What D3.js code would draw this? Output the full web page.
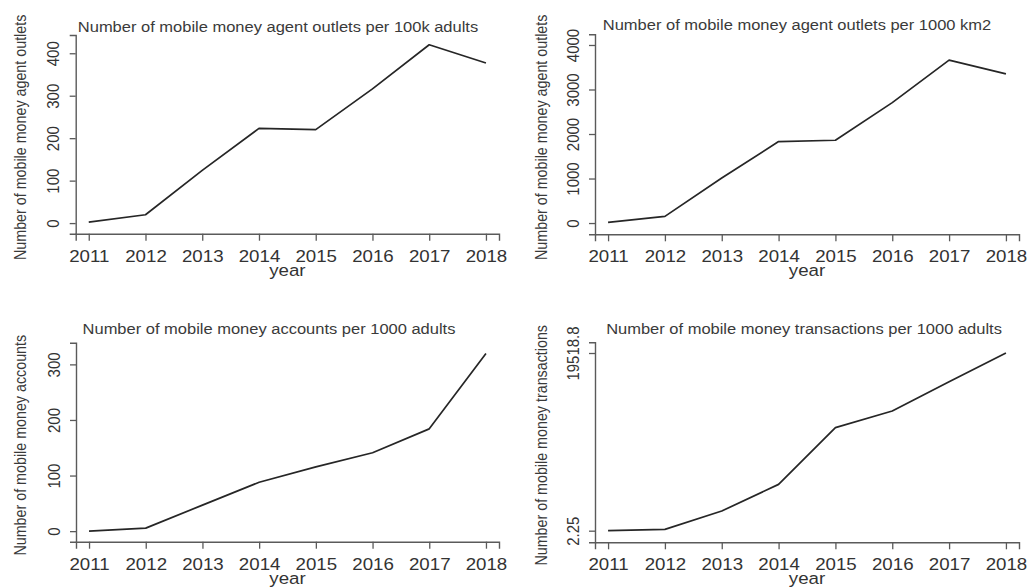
<!DOCTYPE html>
<html>
<head>
<meta charset="utf-8">
<script src="https://cdn.jsdelivr.net/npm/d3@7"></script>
<style>
  body { margin: 0; background: #fff; }
  text { font-family: "Liberation Sans", Arial, sans-serif; }
</style>
</head>
<body>
<div id="chart"></div>
<script>
// data
var years = [2011, 2012, 2013, 2014, 2015, 2016, 2017, 2018];
var agentsPer100k = [2.4, 19.6, 124, 223, 220, 316, 420, 377];
var agentsPer1000km2 = [15, 150, 1010, 1830, 1860, 2705, 3660, 3350];
var accountsPer1000 = [0, 5.4, 46.8, 88, 115.7, 141, 184, 319.6];
var transactionsPer1000 = [2.25, 150, 2163, 5090, 11316, 13147, 16370, 19518.8];

var ticksAgents100k = [0, 100, 200, 300, 400];
var ticksAgentsKm2 = [0, 1000, 2000, 3000, 4000];
var ticksAccounts = [0, 100, 200, 300];
var ticksTransactions = [2.25, 19518.8];

var titles = [
    "Number of mobile money agent outlets per 100k adults",
    "Number of mobile money agent outlets per 1000 km2",
    "Number of mobile money accounts per 1000 adults",
    "Number of mobile money transactions per 1000 adults"
];
var yTitles = [
    "Number of mobile money agent outlets",
    "Number of mobile money agent outlets",
    "Number of mobile money accounts",
    "Number of mobile money transactions"
];

var svgWidth = 1031, svgHeight = 588;
var stretch = 1.1;   // text in the original is a bit wide

var svg = d3.select("#chart").append("svg")
    .attr("width", svgWidth)
    .attr("height", svgHeight);

// one entry per panel: data + where it sits
var panels = [
    {values: agentsPer100k, ticks: ticksAgents100k, title: titles[0], ytitle: yTitles[0],
     yDomain: [-25, 443], left: 75.7, right: 499, top: 35, bottom: 233.7,
     titleX: 278, titleY: 31.5, yTitleX: 25.5},
    {values: agentsPer1000km2, ticks: ticksAgentsKm2, title: titles[1], ytitle: yTitles[1],
     yDomain: [-253, 4240], left: 595, right: 1019, top: 34.3, bottom: 234.3,
     titleX: 797, titleY: 30, yTitleX: 547},
    {values: accountsPer1000, ticks: ticksAccounts, title: titles[2], ytitle: yTitles[2],
     yDomain: [-19, 339], left: 76, right: 499, top: 342.7, bottom: 541.7,
     titleX: 269, titleY: 334.3, yTitleX: 25.5},
    {values: transactionsPer1000, ticks: ticksTransactions, title: titles[3], ytitle: yTitles[3],
     yDomain: [-1273, 20695], left: 595, right: 1019, top: 342.3, bottom: 542.3,
     titleX: 804, titleY: 334, yTitleX: 547}
];

function drawPanel(p){
    var xScale = d3.scaleLinear()
        .domain([2010.77, 2018.23])
        .range([p.left, p.right]);
    var yScale = d3.scaleLinear()
        .domain(p.yDomain)
        .range([p.bottom, p.top]);

    var g = svg.append("g");

    // y axis
    var leftAxis = d3.axisLeft(yScale)
        .tickValues(p.ticks)
        .tickSizeOuter(0)
        .tickSize(6)
        .tickFormat(d => String(d));
    var yAxis = g.append("g")
        .attr("transform", `translate(${p.left},0)`)
        .call(leftAxis);
    yAxis.selectAll("text")
        .attr("x", null).attr("dy", null)
        .attr("text-anchor", "middle")
        .attr("transform", `translate(-16.5,0) scale(${stretch},1) rotate(-90)`)
        .attr("font-size", 15);

    // x axis
    var bottomAxis = d3.axisBottom(xScale)
        .tickValues(years)
        .tickSizeOuter(0)
        .tickSize(7)
        .tickFormat(d3.format("d"));
    var xAxis = g.append("g")
        .attr("transform", `translate(0,${p.bottom})`)
        .call(bottomAxis);
    xAxis.selectAll("text")
        .attr("y", null).attr("dy", null)
        .attr("transform", `translate(0,28) scale(${stretch},1)`)
        .attr("font-size", 17);

    [yAxis, xAxis].forEach(function(ax){
        ax.attr("font-family", null).attr("font-size", null);
        ax.select(".domain").attr("stroke", "#5a5a5a").attr("stroke-width", 1.4);
        ax.selectAll(".tick line").attr("stroke", "#5a5a5a").attr("stroke-width", 1.3);
        ax.selectAll("text").attr("fill", "#333");
    });

    // series line
    var line = d3.line()
        .x((d, i) => xScale(years[i]))
        .y(d => yScale(d));
    g.append("path")
        .datum(p.values)
        .attr("d", line)
        .attr("fill", "none")
        .attr("stroke", "#262626")
        .attr("stroke-width", 1.7)
        .attr("stroke-linejoin", "round");

    // labels
    g.append("text")
        .attr("transform", `translate(${p.titleX},${p.titleY}) scale(${stretch},1)`)
        .attr("text-anchor", "middle")
        .attr("font-size", 15)
        .attr("fill", "#3a3a3a")
        .text(p.title);

    g.append("text")
        .attr("transform", `translate(${(p.left + p.right) / 2},${p.bottom + 42}) scale(${stretch},1)`)
        .attr("text-anchor", "middle")
        .attr("font-size", 17)
        .attr("fill", "#333")
        .text("year");

    g.append("text")
        .attr("transform", `translate(${p.yTitleX},${(p.top + p.bottom) / 2 + 3}) scale(${stretch},1) rotate(-90)`)
        .attr("text-anchor", "middle")
        .attr("font-size", 14.3)
        .attr("fill", "#3a3a3a")
        .text(p.ytitle);
}

panels.forEach(drawPanel);
</script>
</body>
</html>
